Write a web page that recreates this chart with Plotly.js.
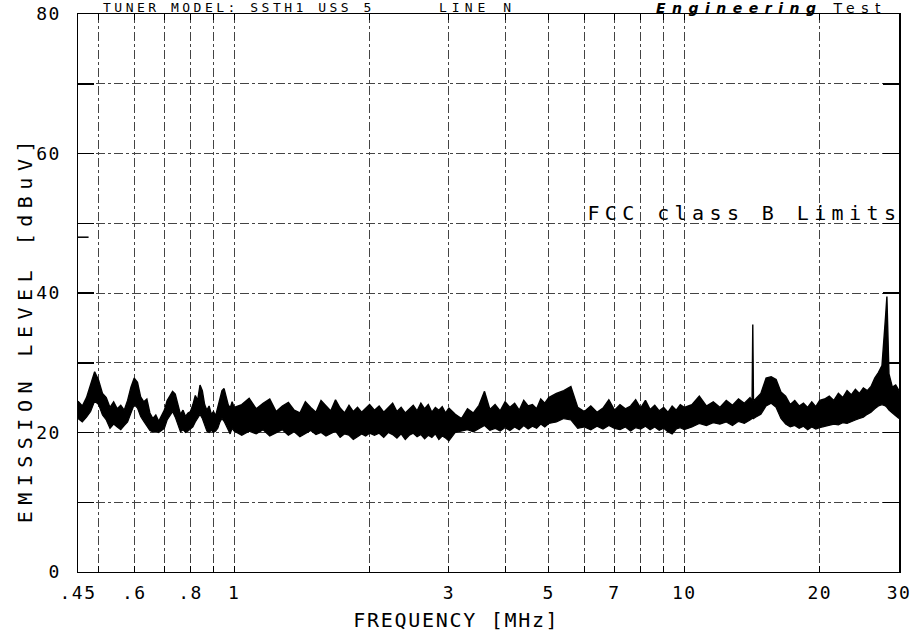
<!DOCTYPE html>
<html>
<head>
<meta charset="utf-8">
<script src="https://cdn.plot.ly/plotly-3.0.1.min.js"></script>
<style>
  html, body { margin: 0; padding: 0; background: #fff; }
  #chart { width: 912px; height: 635px; }
</style>
</head>
<body>
<div id="chart"></div>
<script>
// ---- Data (frequency in MHz, level in dBuV) ----
const freqMHz = [
  0.45,0.46,0.47,0.48,0.49,0.50,0.51,0.52,0.53,0.54,0.55,0.56,0.57,0.58,0.59,0.60,0.61,0.62,0.63,0.64,
  0.65,0.66,0.67,0.68,0.69,0.70,0.71,0.72,0.73,0.74,0.75,0.76,0.77,0.78,0.79,0.80,0.81,0.82,0.83,0.84,
  0.85,0.86,0.87,0.88,0.89,0.90,0.91,0.92,0.93,0.94,0.95,0.96,0.97,0.98,0.99,1.00,
  1.04,1.08,1.12,1.16,1.20,1.24,1.28,1.32,1.36,1.40,1.44,1.48,1.52,1.56,1.60,1.64,1.68,1.72,1.76,1.80,
  1.84,1.88,1.92,1.96,2.00,
  2.05,2.10,2.15,2.20,2.25,2.30,2.35,2.40,2.45,2.50,2.55,2.60,2.65,2.70,2.75,2.80,2.85,2.90,2.95,3.00,
  3.1,3.2,3.3,3.4,3.5,3.6,3.7,3.8,3.9,4.0,4.1,4.2,4.3,4.4,4.5,4.6,4.7,4.8,4.9,5.0,
  5.2,5.4,5.6,5.8,6.0,6.2,6.4,6.6,6.8,7.0,7.2,7.4,7.6,7.8,8.0,8.2,8.4,8.6,8.8,9.0,9.2,9.4,9.6,9.8,10.0,
  10.4,10.8,11.2,11.6,12.0,12.4,12.8,13.2,13.6,14.0,14.15,14.2,14.25,14.4,14.8,15.2,15.6,16.0,16.4,16.8,
  17.2,17.6,18.0,18.4,18.8,19.2,19.6,20.0,
  20.5,21.0,21.5,22.0,22.5,23.0,23.5,24.0,24.5,25.0,25.5,26.0,26.5,27.0,27.5,28.0,28.2,28.5,29.0,29.5,30.0
];
const upperDb = [
  24.5,23.8,25.0,27.0,28.7,27.5,25.6,25.0,23.6,24.4,23.4,23.9,23.2,24.6,26.5,27.8,27.2,25.1,24.4,24.8,
  22.8,22.0,22.5,21.6,22.3,23.2,24.6,25.3,25.9,25.5,23.8,22.6,23.2,22.3,22.8,23.0,24.0,25.3,24.6,26.8,
  26.0,24.0,23.2,23.8,22.6,23.0,22.4,23.5,24.8,26.0,26.3,25.2,24.0,23.5,24.4,23.6,
  24.0,24.9,23.4,24.2,24.8,23.0,23.8,24.3,23.2,22.8,24.4,23.6,22.9,24.6,23.8,23.1,24.7,23.5,22.8,23.9,
  23.0,23.6,22.9,23.4,24.0,
  23.2,23.8,22.9,23.5,24.2,23.0,23.6,22.8,23.3,23.9,23.1,24.2,23.4,24.0,22.9,23.6,23.2,23.7,22.8,23.5,
  22.6,22.0,23.4,22.8,23.9,25.9,23.3,24.0,23.1,24.4,23.6,24.2,23.2,24.6,23.8,24.0,23.4,24.8,24.2,25.0,
  25.6,26.0,26.6,23.6,23.0,23.8,22.9,23.5,24.7,23.2,24.0,23.4,23.8,24.7,23.5,24.6,23.3,23.9,23.1,23.6,22.9,23.8,23.2,24.0,23.6,
  24.0,25.2,23.8,24.4,23.6,24.6,23.9,24.8,24.2,25.0,24.5,35.5,24.6,24.8,25.6,27.8,28.0,27.6,25.8,25.2,
  24.0,24.6,23.8,24.2,23.6,24.4,23.7,24.6,
  24.8,25.2,24.6,25.6,25.0,26.0,25.4,26.2,25.6,26.4,26.0,26.6,27.8,28.6,29.6,36.5,39.5,28.4,26.5,26.8,26.0
];
const lowerDb = [
  22.0,21.5,22.2,23.0,24.5,24.0,22.5,21.8,20.6,21.2,20.8,20.4,21.0,21.5,22.8,24.0,23.5,22.3,21.6,21.0,
  20.3,20.1,20.2,20.0,20.3,20.6,21.8,22.5,23.0,22.2,21.0,20.1,20.4,20.0,20.2,20.5,20.8,21.5,22.0,22.6,
  22.0,21.0,20.2,20.0,20.3,20.0,20.2,20.6,21.5,22.0,21.6,21.0,20.4,19.8,20.6,20.2,
  19.6,20.2,19.8,20.4,19.5,20.0,20.4,19.6,20.1,19.4,19.9,20.3,19.7,20.0,19.5,19.9,20.2,19.3,19.8,19.6,
  19.0,19.4,19.8,19.5,19.9,
  19.6,19.9,19.3,20.0,19.7,19.2,19.8,19.0,19.6,19.9,19.4,19.7,19.1,19.6,19.3,19.8,19.0,19.5,19.2,18.8,
  20.0,20.2,20.4,20.1,20.5,21.0,20.3,20.6,20.2,20.7,20.3,20.8,20.4,21.0,20.5,20.9,20.6,21.2,20.8,21.3,
  21.5,22.0,21.8,20.6,20.8,20.4,20.9,20.5,21.0,20.6,20.4,20.8,20.2,20.7,20.5,20.9,20.4,20.8,20.3,20.6,20.1,19.8,20.5,20.7,20.4,
  20.8,21.3,21.0,21.4,21.2,21.5,21.0,21.6,21.3,21.8,22.0,22.2,22.0,22.2,22.6,23.8,24.2,23.6,22.0,21.2,
  20.8,21.0,20.6,20.9,20.4,20.8,20.5,20.7,
  20.9,21.0,21.2,21.1,21.4,21.3,21.6,21.8,22.0,22.2,22.6,22.9,23.4,23.8,24.0,23.8,23.6,23.2,22.8,22.4,22.0
];
const fccLimitDb = 48;

// ---- Axis ticks / labels ----
const xTickVals = [0.45, 0.6, 0.8, 1, 3, 5, 7, 10, 20, 30];
const xTickText = [".45", ".6", ".8", "1", "3", "5", "7", "10", "20", "30"];
const xMinorGrid = [0.5, 0.7, 0.9, 2, 4, 6, 8, 9];
const yTickVals = [0, 20, 40, 60, 80];
const yTickText = ["0", "20", "40", "60", "80"];
const yMinorGrid = [10, 30, 50, 70];

const ink = '#000';
const gridInk = '#444';

const traces = [
  { x: freqMHz, y: lowerDb, type: 'scatter', mode: 'lines',
    line: { color: ink, width: 1.2 }, hoverinfo: 'skip' },
  { x: freqMHz, y: upperDb, type: 'scatter', mode: 'lines',
    line: { color: ink, width: 1.4 }, fill: 'tonexty', fillcolor: ink, hoverinfo: 'skip' },
  { x: [xTickVals[0], 0.475], y: [fccLimitDb, fccLimitDb], type: 'scatter', mode: 'lines',
    line: { color: ink, width: 1.5 }, hoverinfo: 'skip' }
];

const mono = 'DejaVu Sans Mono, Liberation Mono, monospace';

const layout = {
  width: 912, height: 635,
  margin: { l: 78, r: 13, t: 14, b: 63, pad: 0 },
  paper_bgcolor: '#fff', plot_bgcolor: '#fff',
  showlegend: false,
  font: { family: mono, color: ink, size: 18 },
  xaxis: {
    type: 'log', range: [Math.log10(0.45), Math.log10(30)],
    tickmode: 'array', tickvals: xTickVals, ticktext: xTickText,
    ticks: 'inside', ticklen: 6, tickwidth: 1, tickcolor: ink,
    tickfont: { family: mono, size: 18, color: ink },
    showline: true, linecolor: ink, linewidth: 1, mirror: 'allticks',
    showgrid: true, gridcolor: gridInk, gridwidth: 1, griddash: 'dashdot',
    minor: { tickvals: xMinorGrid, ticks: 'inside', ticklen: 6, tickcolor: ink,
             showgrid: true, gridcolor: gridInk, gridwidth: 1, griddash: 'dashdot' },
    zeroline: false, ticklabelstandoff: 4, fixedrange: true
  },
  yaxis: {
    range: [0, 80],
    tickmode: 'array', tickvals: yTickVals, ticktext: yTickText,
    ticks: 'inside', ticklen: 16, tickwidth: 1.5, tickcolor: ink,
    tickfont: { family: mono, size: 18, color: ink },
    showline: true, linecolor: ink, linewidth: 1.5, mirror: 'allticks',
    showgrid: true, gridcolor: gridInk, gridwidth: 1, griddash: 'dashdot',
    minor: { tickvals: yMinorGrid, ticks: 'inside', ticklen: 16, tickcolor: ink,
             showgrid: true, gridcolor: gridInk, gridwidth: 1, griddash: 'dashdot' },
    zeroline: false, ticklabelstandoff: 12, fixedrange: true
  },
  annotations: [
    { text: 'FREQUENCY [MHz]', xref: 'paper', yref: 'paper', x: 0.4616, y: -0.086,
      xanchor: 'center', yanchor: 'middle', showarrow: false,
      font: { family: mono, size: 20, color: ink } },
    { text: 'EMISSION LEVEL [dBuV]', xref: 'paper', yref: 'paper', x: -0.0646, y: 0.437,
      xanchor: 'center', yanchor: 'middle', textangle: -90, showarrow: false,
      font: { family: mono, size: 20, color: ink } },
    { text: 'FCC class B Limits', xref: 'paper', yref: 'paper', x: 0.8118, y: 0.643,
      xanchor: 'center', yanchor: 'middle', showarrow: false,
      font: { family: mono, size: 20, color: ink } },
    { text: 'TUNER MODEL: SSTH1 USS 5', xref: 'paper', yref: 'paper', x: 0.196, y: 1.0125,
      xanchor: 'center', yanchor: 'middle', showarrow: false,
      font: { family: mono, size: 13, color: ink } },
    { text: 'LINE N', xref: 'paper', yref: 'paper', x: 0.4866, y: 1.0125,
      xanchor: 'center', yanchor: 'middle', showarrow: false,
      font: { family: mono, size: 13, color: ink } },
    { text: '<b><i>Engineering</i></b> Test', xref: 'paper', yref: 'paper', x: 0.845, y: 1.0115,
      xanchor: 'center', yanchor: 'middle', showarrow: false,
      font: { family: 'DejaVu Sans, sans-serif', size: 14, color: ink } }
  ]
};

const spacing = {
  'FREQUENCY [MHz]': '1.7px',
  'EMISSION LEVEL [dBuV]': '6.5px',
  'FCC class B Limits': '5.4px',
  'TUNER MODEL: SSTH1 USS 5': '3.5px',
  'LINE N': '5px',
  'Engineering Test': '6.5px'
};

Plotly.newPlot('chart', traces, layout, { staticPlot: true, displayModeBar: false }).then(function (gd) {
  gd.querySelectorAll('.annotation-text').forEach(function (t) {
    const s = spacing[t.textContent];
    if (s) t.style.letterSpacing = s;
  });
  gd.querySelectorAll('.xtick text, .ytick text').forEach(function (t) {
    t.style.letterSpacing = '1.5px';
  });
});
</script>
</body>
</html>
